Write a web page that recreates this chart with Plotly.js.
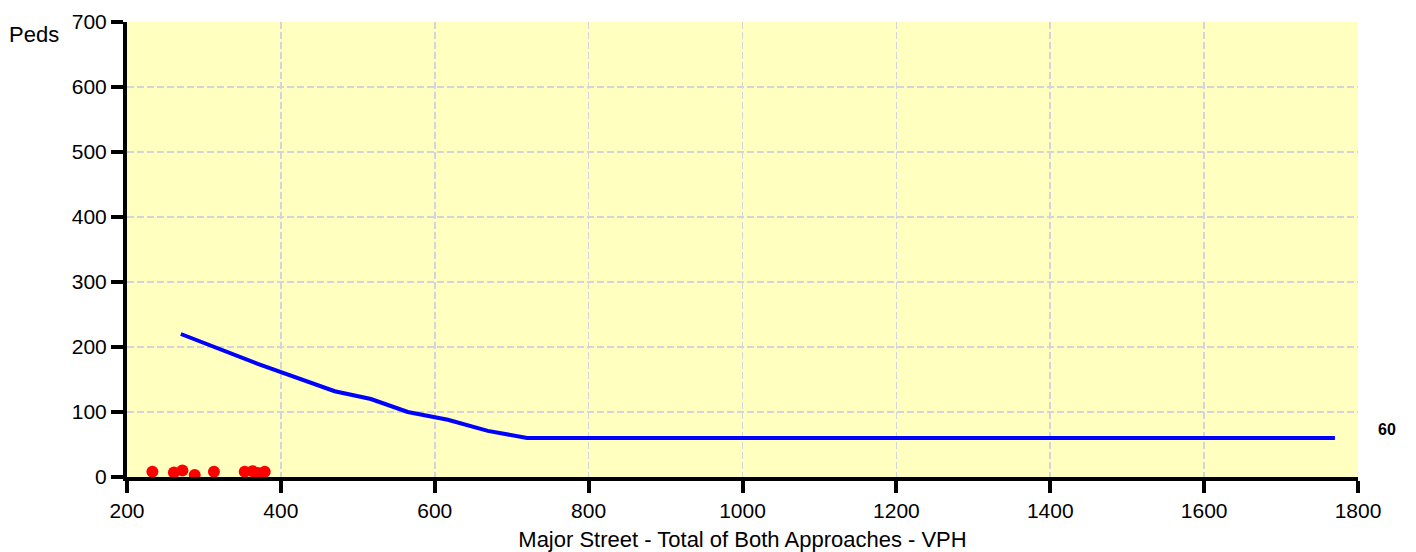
<!DOCTYPE html>
<html>
<head>
<meta charset="utf-8">
<script src="https://cdn.plot.ly/plotly-3.0.1.min.js"></script>
<style>html,body{margin:0;padding:0;background:#fff;}#chart{width:1416px;height:552px;}</style>
</head>
<body>
<div id="chart"></div>
<script>
// Warrant curve (Major street VPH vs Peds)
const curveX = [270, 370, 470, 517, 565, 617, 669, 720, 1770];
const curveY = [220, 174, 132, 120, 100, 88, 71, 60, 60];
// Observed hourly volumes
const obsX = [233, 261, 272, 288, 313, 353, 363, 370, 379];
const obsY = [8, 7, 10, 3, 8, 8, 9, 6, 8];
const xTicks = [200, 400, 600, 800, 1000, 1200, 1400, 1600, 1800];
const yTicks = [0, 100, 200, 300, 400, 500, 600, 700];
const thresholdLabel = "60";
const yTitle = "Peds";
const xTitle = "Major Street - Total of Both Approaches - VPH";

const font = {family: "Liberation Sans, Arial, sans-serif", color: "#000"};

const traces = [
  {x: curveX, y: curveY, type: "scatter", mode: "lines",
   line: {color: "#0000FF", width: 4}, hoverinfo: "skip"},
  {x: obsX, y: obsY, type: "scatter", mode: "markers",
   marker: {color: "#FF0000", size: 12}, cliponaxis: false, hoverinfo: "skip"}
];

const axisCommon = {
  showline: true, linecolor: "#000", linewidth: 4,
  ticks: "outside", ticklen: 12, tickwidth: 4, tickcolor: "#000",
  showgrid: true, gridcolor: "rgb(212,212,218)", gridwidth: 1.6, griddash: "7px,3px",
  zeroline: false, tickfont: Object.assign({size: 21}, font)
};

const layout = {
  width: 1416, height: 552,
  margin: {l: 127, r: 58, t: 22, b: 75},
  paper_bgcolor: "#FFFFFF", plot_bgcolor: "#FFFFC0",
  showlegend: false,
  xaxis: Object.assign({}, axisCommon, {
    range: [200, 1800], tickvals: xTicks, ticktext: xTicks.map(String),
    title: {text: xTitle, font: Object.assign({size: 22}, font), standoff: 12}
  }),
  yaxis: Object.assign({}, axisCommon, {
    range: [0, 700], tickvals: yTicks, ticktext: yTicks.map(String)
  }),
  annotations: [
    {text: yTitle, xref: "paper", yref: "paper", x: 0, y: 1, xanchor: "right", yanchor: "middle",
     xshift: -66, yshift: -12, showarrow: false, font: Object.assign({size: 22}, font)},
    {text: "<b>" + thresholdLabel + "</b>", xref: "paper", yref: "y", x: 1, y: 60, xanchor: "left", yanchor: "middle",
     xshift: 18, yshift: 9, showarrow: false, font: Object.assign({size: 16}, font)}
  ]
};

Plotly.newPlot("chart", traces, layout, {staticPlot: true, displayModeBar: false});
</script>
</body>
</html>
